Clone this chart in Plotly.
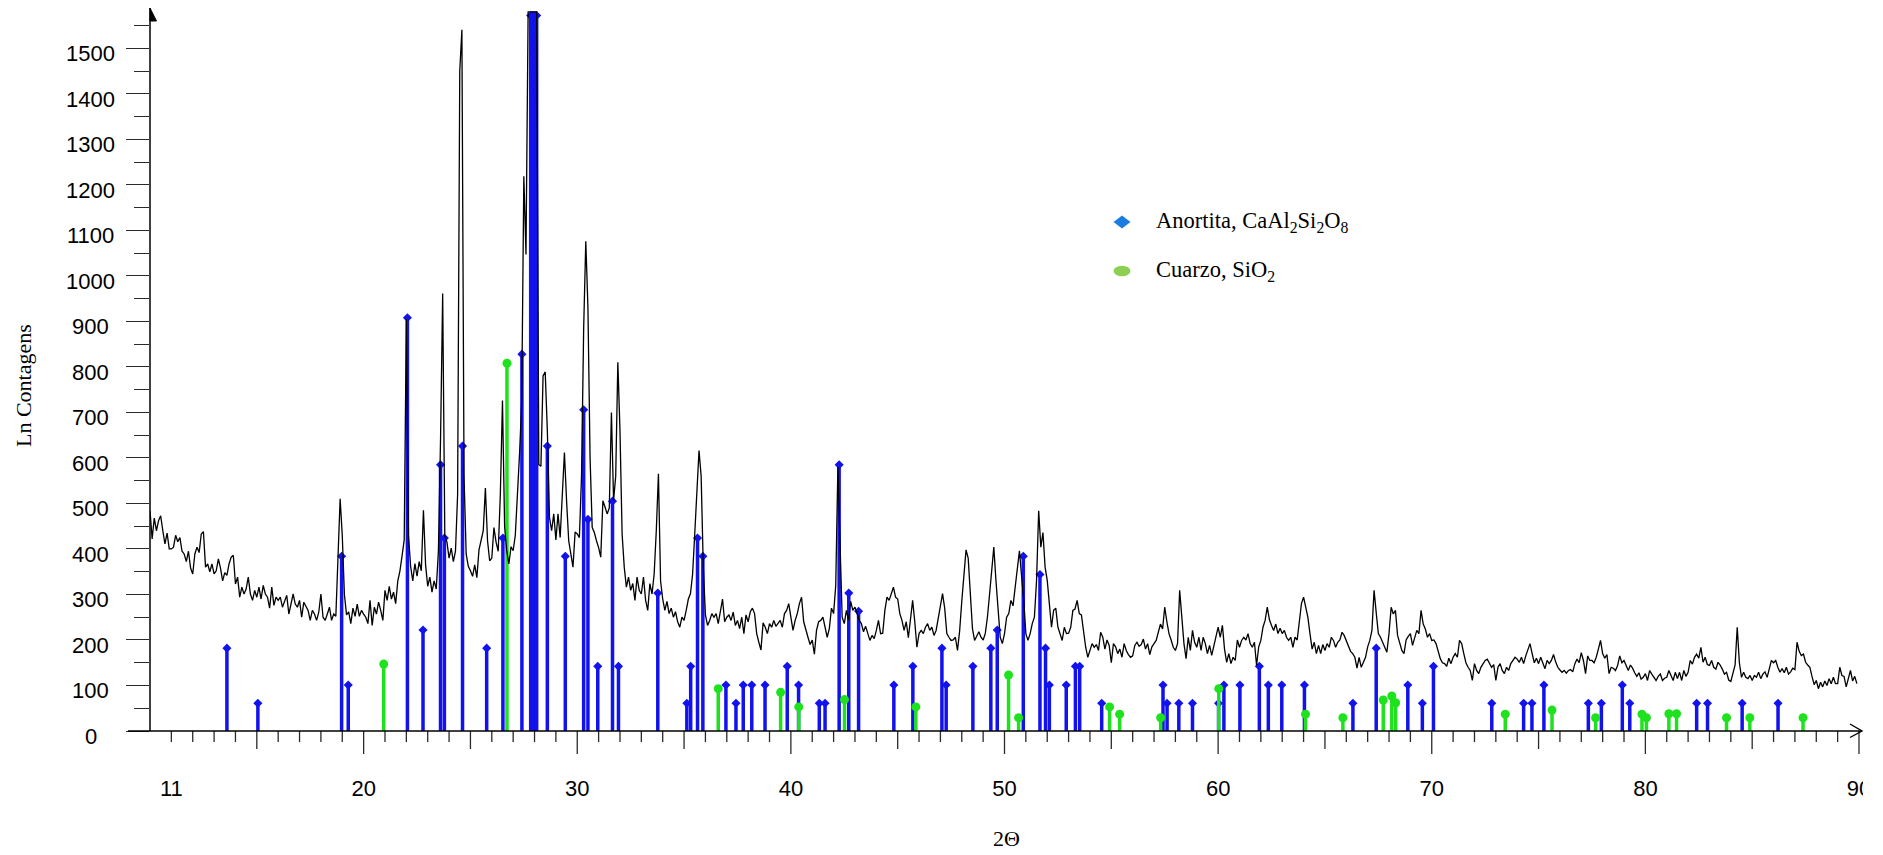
import numpy as np
import plotly.graph_objects as go

# ---------------------------------------------------------------------------
# Diffractogram: counts every 0.1 deg 2-theta, 10.0 .. 89.9 (one row per degree)
# ---------------------------------------------------------------------------
scan_start = 10.0
scan_step = 0.1
counts = [
    484, 422, 468, 440, 462, 473, 440, 411, 435, 400,   # 10
    400, 404, 430, 416, 425, 395, 389, 372, 395, 358,   # 11
    345, 389, 404, 392, 433, 438, 360, 367, 350, 367,   # 12
    345, 352, 378, 358, 330, 348, 342, 367, 382, 386,   # 13
    323, 338, 294, 316, 301, 312, 338, 301, 287, 309,   # 14
    294, 316, 290, 320, 301, 294, 270, 316, 276, 294,   # 15
    287, 294, 272, 287, 298, 257, 283, 301, 279, 272,   # 16
    287, 250, 283, 272, 265, 243, 265, 257, 243, 261,   # 17
    301, 250, 243, 257, 272, 243, 257, 252, 380, 510,   # 18
    430, 300, 255, 262, 236, 270, 252, 279, 252, 265,   # 19
    257, 250, 236, 287, 232, 272, 257, 283, 265, 243,   # 20
    309, 287, 318, 290, 305, 280, 330, 352, 385, 420,   # 21
    905, 430, 362, 330, 368, 340, 372, 352, 485, 365,   # 22
    318, 338, 305, 330, 312, 395, 640, 961, 430, 415,   # 23
    380, 402, 372, 395, 520, 1450, 1541, 560, 389, 362,  # 24
    352, 340, 365, 337, 398, 420, 440, 534, 418, 374,   # 25
    380, 447, 415, 395, 520, 726, 449, 395, 367, 405,   # 26
    396, 430, 508, 610, 722, 1219, 1047, 1900, 2600, 2900,  # 27
    2700, 2000, 585, 582, 780, 789, 660, 470, 440, 477,  # 28
    420, 477, 425, 535, 612, 506, 418, 389, 360, 437,   # 29
    433, 425, 560, 884, 1076, 931, 600, 447, 436, 418,  # 30
    403, 382, 506, 492, 477, 490, 700, 506, 560, 810,   # 31
    660, 433, 360, 316, 338, 309, 324, 287, 338, 309,   # 32
    301, 338, 287, 265, 324, 301, 345, 440, 565, 330,   # 33
    290, 265, 285, 258, 270, 250, 262, 240, 228, 250,   # 34
    243, 265, 290, 302, 345, 433, 514, 616, 560, 360,   # 35
    255, 232, 243, 258, 250, 258, 236, 265, 290, 240,   # 36
    250, 255, 243, 261, 232, 243, 225, 250, 214, 255,   # 37
    240, 262, 270, 258, 214, 195, 178, 238, 228, 214,   # 38
    236, 228, 243, 230, 236, 243, 228, 258, 265, 280,   # 39
    250, 221, 243, 258, 280, 294, 240, 220, 206, 190,   # 40
    200, 169, 221, 240, 243, 250, 228, 206, 225, 270,   # 41
    258, 320, 580, 400, 250, 236, 265, 243, 285, 265,   # 42
    272, 258, 243, 236, 218, 230, 214, 199, 210, 203,   # 43
    221, 243, 214, 215, 265, 294, 287, 301, 316, 294,   # 44
    290, 258, 243, 221, 240, 205, 250, 287, 240, 184,   # 45
    214, 221, 214, 228, 236, 221, 228, 210, 221, 250,   # 46
    272, 302, 270, 214, 206, 199, 200, 206, 177, 220,   # 47
    285, 345, 398, 380, 301, 225, 199, 210, 218, 206,   # 48
    200, 214, 250, 300, 345, 404, 330, 270, 206, 192,   # 49
    214, 250, 258, 287, 275, 316, 360, 396, 340, 287,   # 50
    214, 199, 214, 236, 250, 330, 484, 404, 436, 360,   # 51
    331, 272, 228, 265, 270, 228, 214, 199, 228, 214,   # 52
    215, 228, 265, 268, 287, 258, 255, 214, 184, 162,   # 53
    177, 192, 184, 190, 177, 217, 206, 180, 200, 188,   # 54
    150, 192, 185, 170, 180, 162, 192, 177, 168, 162,   # 55
    165, 188, 195, 186, 190, 202, 180, 192, 168, 185,   # 56
    192, 199, 217, 235, 224, 272, 240, 214, 200, 184,   # 57
    177, 192, 309, 243, 192, 159, 206, 177, 221, 195,   # 58
    184, 206, 177, 206, 192, 170, 188, 166, 185, 210,   # 59
    228, 206, 232, 180, 151, 170, 148, 162, 155, 200,   # 60
    184, 199, 206, 200, 214, 192, 184, 195, 144, 185,   # 61
    199, 228, 243, 272, 245, 232, 221, 235, 214, 226,   # 62
    214, 221, 206, 199, 206, 184, 206, 200, 235, 280,   # 63
    294, 272, 250, 214, 180, 195, 170, 188, 170, 190,   # 64
    177, 192, 184, 206, 199, 184, 195, 200, 217, 210,   # 65
    199, 190, 175, 170, 162, 138, 162, 140, 150, 162,   # 66
    185, 199, 221, 309, 260, 214, 206, 195, 184, 173,   # 67
    215, 272, 257, 265, 210, 192, 177, 170, 200, 208,   # 68
    214, 188, 206, 221, 214, 265, 235, 224, 206, 214,   # 69
    199, 200, 192, 177, 159, 150, 148, 142, 160, 148,   # 70
    162, 170, 162, 199, 192, 170, 150, 140, 133, 111,   # 71
    148, 133, 126, 140, 148, 155, 158, 148, 140, 146,   # 72
    111, 140, 148, 133, 126, 140, 133, 148, 155, 162,   # 73
    158, 151, 162, 148, 165, 181, 192, 170, 150, 160,   # 74
    148, 162, 150, 137, 155, 148, 155, 168, 152, 140,   # 75
    134, 129, 133, 127, 133, 135, 130, 148, 158, 150,   # 76
    172, 155, 126, 165, 155, 155, 150, 162, 180, 199,   # 77
    170, 160, 168, 126, 140, 138, 133, 144, 165, 150,   # 78
    155, 145, 133, 145, 138, 128, 120, 128, 114, 118,   # 79
    126, 111, 133, 125, 118, 111, 120, 125, 111, 116,   # 80
    118, 133, 122, 111, 129, 115, 129, 111, 133, 120,   # 81
    129, 155, 147, 162, 169, 160, 184, 151, 162, 146,   # 82
    144, 155, 140, 136, 151, 145, 136, 125, 129, 112,   # 83
    109, 125, 145, 228, 150, 118, 129, 118, 115, 122,   # 84
    111, 122, 118, 129, 115, 125, 130, 118, 135, 155,   # 85
    150, 155, 140, 129, 137, 128, 140, 125, 130, 138,   # 86
    135, 195, 175, 166, 169, 151, 145, 140, 120, 102,   # 87
    111, 93, 107, 97, 110, 100, 115, 104, 118, 104,     # 88
    104, 140, 122, 120, 97, 118, 133, 110, 120, 104,    # 89
]
two_theta = np.round(scan_start + scan_step * np.arange(len(counts)), 2)

# ---------------------------------------------------------------------------
# Reference patterns (stick positions in 2-theta and heights in counts)
# ---------------------------------------------------------------------------
anortita_2theta = [
    13.60, 15.05, 18.97, 19.28, 22.05, 22.78, 23.60, 23.78, 24.63, 25.76,
    26.52, 27.41, 27.82, 27.92, 28.02, 28.10, 28.60, 29.44, 30.30, 30.50,
    30.96, 31.65, 31.93, 33.77, 35.13, 35.31, 35.63, 35.88, 36.96, 37.43,
    37.77, 38.17, 38.79, 39.83, 40.36, 41.33, 41.60, 42.26, 42.71, 43.17,
    44.82, 45.71, 47.07, 47.27, 48.52, 49.36, 49.66, 50.88, 51.66, 51.92,
    52.10, 52.89, 53.32, 53.52, 54.55, 57.42, 57.61, 58.16, 58.80, 60.02,
    60.27, 61.02, 61.93, 62.35, 62.98, 64.04, 66.31, 67.40, 68.88, 69.56,
    70.08, 72.81, 74.30, 74.69, 75.25, 77.33, 77.94, 78.92, 79.27, 82.40,
    82.91, 84.53, 86.21,
]
anortita_counts = [
    182, 61, 384, 101, 908, 222, 585, 424, 626, 182,
    424, 828, 1572, 1572, 1572, 1572, 626, 384, 706, 465,
    142, 505, 142, 303, 61, 142, 424, 384, 101, 61,
    101, 101, 101, 142, 101, 61, 61, 585, 303, 263,
    101, 142, 182, 101, 142, 182, 222, 384, 344, 182,
    101, 101, 142, 142, 61, 101, 61, 61, 61, 61,
    101, 101, 142, 101, 101, 101, 61, 182, 101, 61,
    142, 61, 61, 61, 101, 61, 61, 101, 61, 61,
    61, 61, 61,
]

cuarzo_2theta = [
    20.94, 26.71, 36.60, 39.52, 40.37, 42.51, 45.85, 50.19, 50.66, 54.92,
    55.39, 57.31, 60.03, 64.09, 65.84, 67.73, 68.13, 68.31, 73.44, 75.63,
    77.67, 79.84, 80.05, 81.10, 81.46, 83.80, 84.89, 87.38,
]
cuarzo_counts = [
    147, 808, 93, 85, 53, 69, 53, 123, 29, 53,
    37, 29, 93, 37, 29, 68, 77, 62, 37, 46,
    29, 37, 29, 38, 38, 29, 29, 29,
]

# Axis ticks
x_label_vals = [11, 20, 30, 40, 50, 60, 70, 80, 90]
y_label_vals = list(range(0, 1501, 100))

# ---------------------------------------------------------------------------
# Styling / geometry
# ---------------------------------------------------------------------------
W, H = 1883, 855
M_L, M_R, M_T, M_B = 150, 24, 11, 124
PLOT_W = W - M_L - M_R
PLOT_H = H - M_T - M_B
X_RANGE = [10, 90]
Y_RANGE = [0, 1582]

BLUE = "#1212ee"
GREEN = "#1ee21e"
TICK = "#2a2a2a"
SANS = "Liberation Sans, Arial, Helvetica, sans-serif"
SERIF = "Liberation Serif, Times New Roman, serif"


def px_x(px):
    """Page pixel x -> paper fraction."""
    return (px - M_L) / PLOT_W


def px_y(py):
    """Page pixel y (from top) -> paper fraction."""
    return (H - M_B - py) / PLOT_H


def sticks(pos, val):
    xs, ys = [], []
    for p, v in zip(pos, val):
        xs += [p, p, None]
        ys += [0, v, None]
    return xs, ys


fig = go.Figure()

# Anortita sticks
sx, sy = sticks(anortita_2theta, anortita_counts)
fig.add_trace(go.Scatter(x=sx, y=sy, mode="lines", line=dict(color=BLUE, width=3.5),
                         hoverinfo="skip", showlegend=False))
fig.add_trace(go.Scatter(x=anortita_2theta, y=anortita_counts, mode="markers",
                         marker=dict(symbol="diamond", size=7, color=BLUE, line=dict(width=0)),
                         hoverinfo="skip", showlegend=False))

# Cuarzo sticks
sx, sy = sticks(cuarzo_2theta, cuarzo_counts)
fig.add_trace(go.Scatter(x=sx, y=sy, mode="lines", line=dict(color=GREEN, width=3.5),
                         hoverinfo="skip", showlegend=False))
fig.add_trace(go.Scatter(x=cuarzo_2theta, y=cuarzo_counts, mode="markers",
                         marker=dict(symbol="circle", size=9, color=GREEN, line=dict(width=0)),
                         hoverinfo="skip", showlegend=False))

# Measured pattern (counts above the frame are flattened at the top edge)
fig.add_trace(go.Scatter(x=two_theta, y=np.minimum(np.array(counts), Y_RANGE[1] - 2),
                         mode="lines", line=dict(color="black", width=1.3),
                         hoverinfo="skip", showlegend=False))

shapes = []

# x-axis ticks: 1-degree minor, 5-degree medium, 10-degree major
for v in range(11, 90):
    ln = 23 if v % 10 == 0 else (18 if v % 5 == 0 else 11)
    shapes.append(dict(type="line", xref="x", x0=v, x1=v,
                       yref="paper", ysizemode="pixel", yanchor=0, y0=0, y1=-ln,
                       line=dict(color=TICK, width=1.3), layer="above"))
shapes.append(dict(type="line", xref="paper", x0=1, x1=1,
                   yref="paper", ysizemode="pixel", yanchor=0, y0=0, y1=-23,
                   line=dict(color=TICK, width=1.3), layer="above"))

# x-axis line with open arrow head
shapes.append(dict(type="line", xref="paper", xsizemode="pixel", xanchor=0, x0=-22, x1=PLOT_W + 3,
                   yref="paper", y0=0, y1=0, line=dict(color="black", width=1.5), layer="above"))
shapes.append(dict(type="path", xref="paper", xsizemode="pixel", xanchor=0,
                   yref="paper", ysizemode="pixel", yanchor=0,
                   path=f"M {PLOT_W - 9},7 L {PLOT_W + 3},0 L {PLOT_W - 9},-6.5",
                   line=dict(color="black", width=1.4), layer="above"))

# y-axis line with filled arrow head
shapes.append(dict(type="line", xref="paper", x0=0, x1=0,
                   yref="paper", ysizemode="pixel", yanchor=0, y0=0, y1=PLOT_H + 3,
                   line=dict(color="black", width=1.5), layer="above"))
shapes.append(dict(type="path", xref="paper", xsizemode="pixel", xanchor=0,
                   yref="paper", ysizemode="pixel", yanchor=0,
                   path=f"M 0,{PLOT_H + 3} L 6.5,{PLOT_H - 10} L 0,{PLOT_H - 10} Z",
                   fillcolor="black", line=dict(color="black", width=1), layer="above"))

# frame edge trims the last tick label
shapes.append(dict(type="rect", xref="paper", xsizemode="pixel", xanchor=1, x0=4, x1=40,
                   yref="paper", ysizemode="pixel", yanchor=0, y0=-30, y1=-90,
                   fillcolor="white", line=dict(width=0), layer="above"))

# legend symbols
LEG_X = 1122
LEG_Y1, LEG_Y2 = 222, 271
shapes.append(dict(type="path", xref="paper", xsizemode="pixel", xanchor=px_x(LEG_X),
                   yref="paper", ysizemode="pixel", yanchor=px_y(LEG_Y1),
                   path="M -8.5,0 L 0,6.5 L 8.5,0 L 0,-6.5 Z",
                   fillcolor="#1a7be0", line=dict(width=0), layer="above"))
shapes.append(dict(type="circle", xref="paper", xsizemode="pixel", xanchor=px_x(LEG_X),
                   x0=-8.5, x1=8.5,
                   yref="paper", ysizemode="pixel", yanchor=px_y(LEG_Y2), y0=-5.3, y1=5.3,
                   fillcolor="#8ccf52", line=dict(width=0), layer="above"))

annotations = []
# y tick labels, centred in the label column
for v in y_label_vals:
    annotations.append(dict(x=0, xref="paper", xshift=-(M_L - 90.5), y=v, yref="y", yshift=-5.5,
                            text=str(v), showarrow=False, xanchor="center", yanchor="middle",
                            font=dict(family=SANS, size=22, color="black")))

annotations += [
    dict(x=px_x(1154), xref="paper", y=px_y(LEG_Y1), yref="paper",
         text="Anortita, CaAl<sub>2</sub>Si<sub>2</sub>O<sub>8</sub>",
         showarrow=False, xanchor="left", yanchor="middle",
         font=dict(family=SERIF, size=22.5, color="black")),
    dict(x=px_x(1154), xref="paper", y=px_y(LEG_Y2), yref="paper",
         text="Cuarzo, SiO<sub>2</sub>",
         showarrow=False, xanchor="left", yanchor="middle",
         font=dict(family=SERIF, size=22.5, color="black")),
    dict(x=px_x(1006.5), xref="paper", y=px_y(839), yref="paper",
         text="2Θ", showarrow=False, xanchor="center", yanchor="middle",
         font=dict(family=SERIF, size=22, color="black")),
    dict(x=px_x(24), xref="paper", y=px_y(386), yref="paper",
         text="Ln Contagens", textangle=-90, showarrow=False,
         xanchor="center", yanchor="middle",
         font=dict(family=SERIF, size=22, color="black")),
]

fig.update_layout(
    width=W, height=H,
    margin=dict(l=M_L, r=M_R, t=M_T, b=M_B, pad=0),
    paper_bgcolor="white", plot_bgcolor="white",
    showlegend=False,
    xaxis=dict(range=X_RANGE, tickmode="array", tickvals=x_label_vals,
               ticktext=[str(v) for v in x_label_vals], ticks="",
               ticklabelstandoff=42,
               tickfont=dict(family=SANS, size=22, color="black"),
               showline=False, showgrid=False, zeroline=False, fixedrange=True),
    yaxis=dict(range=Y_RANGE, tickmode="linear", tick0=0, dtick=100,
               ticks="outside", ticklen=23, tickwidth=1.3, tickcolor=TICK,
               minor=dict(tickmode="linear", tick0=0, dtick=50, ticks="outside",
                          ticklen=15, tickwidth=1.3, tickcolor=TICK),
               showticklabels=False,
               showline=False, showgrid=False, zeroline=False, fixedrange=True),
    shapes=shapes,
    annotations=annotations,
)

fig.write_html("out.html", config={"displayModeBar": False})
